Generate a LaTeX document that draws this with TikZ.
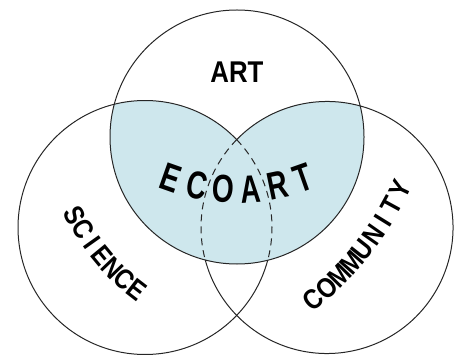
\documentclass[tikz,border=0pt]{standalone}
\usepackage{fontspec}
\newfontfamily\vennfont[FakeStretch=0.86]{Liberation Sans}
\newfontfamily\ecofont[FakeStretch=0.72]{Liberation Sans}
\definecolor{ecoblue}{RGB}{206,231,237}
\tikzset{
  venn line/.style={line width=1pt, black!85},
  hidden line/.style={venn line, dash pattern=on 7pt off 5pt},
  set label/.style={font=\vennfont\bfseries\fontsize{#1}{#1}\selectfont, inner sep=0pt},
  set label/.default=28,
  eco letter/.style={font=\ecofont\bfseries\fontsize{39}{39}\selectfont, inner sep=0pt}
}
\begin{document}
\begin{tikzpicture}[x=1pt,y=1pt]
  \useasboundingbox (0,0) rectangle (454,356);
  \coordinate (art) at (237,219);
  \coordinate (sci) at (145,128.5);
  \coordinate (com) at (327,128.5);

  \begin{scope}
    \clip (art) circle (127pt);
    \fill[ecoblue] (sci) circle (127pt);
    \fill[ecoblue] (com) circle (126pt);
  \end{scope}

  \draw[venn line] (art) circle (127pt);
  \draw[venn line] ([shift={(43.8:127pt)}]sci)
    arc[start angle=43.8, end angle=345.1, radius=127pt];
  \draw[hidden line] ([shift={(43.8:127pt)}]sci)
    arc[start angle=43.8, end angle=-14.9, radius=127pt];
  \draw[venn line] ([shift={(194.9:126pt)}]com)
    arc[start angle=194.9, end angle=495.8, radius=126pt];
  \draw[hidden line] ([shift={(135.8:126pt)}]com)
    arc[start angle=135.8, end angle=194.9, radius=126pt];

  \node[set label=30] (artlabel) at (237,284) {ART};

  \coordinate (scitext) at (271.4,240.2);
  \foreach \ch [count=\i, evaluate=\i as \ang using 206.8+4.25*(\i-1)]
    in {S,C,I,E,N,C,E}
    \node[set label, rotate=\ang+90] (sci-\i) at ([shift={(\ang:220pt)}]scitext) {\ch};

  \coordinate (comtext) at (110.9,304.1);
  \foreach \ch [count=\i, evaluate=\i as \ang using -50.8+3.175*(\i-1)]
    in {C,O,M,M,U,N,I,T,Y}
    \node[set label, rotate=\ang+90] (com-\i) at ([shift={(\ang:320pt)}]comtext) {\ch};

  \coordinate (ecotext) at (237,366.6);
  \foreach \ch [count=\i, evaluate=\i as \ang using 250.6+7.76*(\i-1)]
    in {E,C,O,A,R,T}
    \node[eco letter, rotate=\ang+90] (eco-\i) at ([shift={(\ang:200pt)}]ecotext) {\ch};
\end{tikzpicture}
\end{document}
